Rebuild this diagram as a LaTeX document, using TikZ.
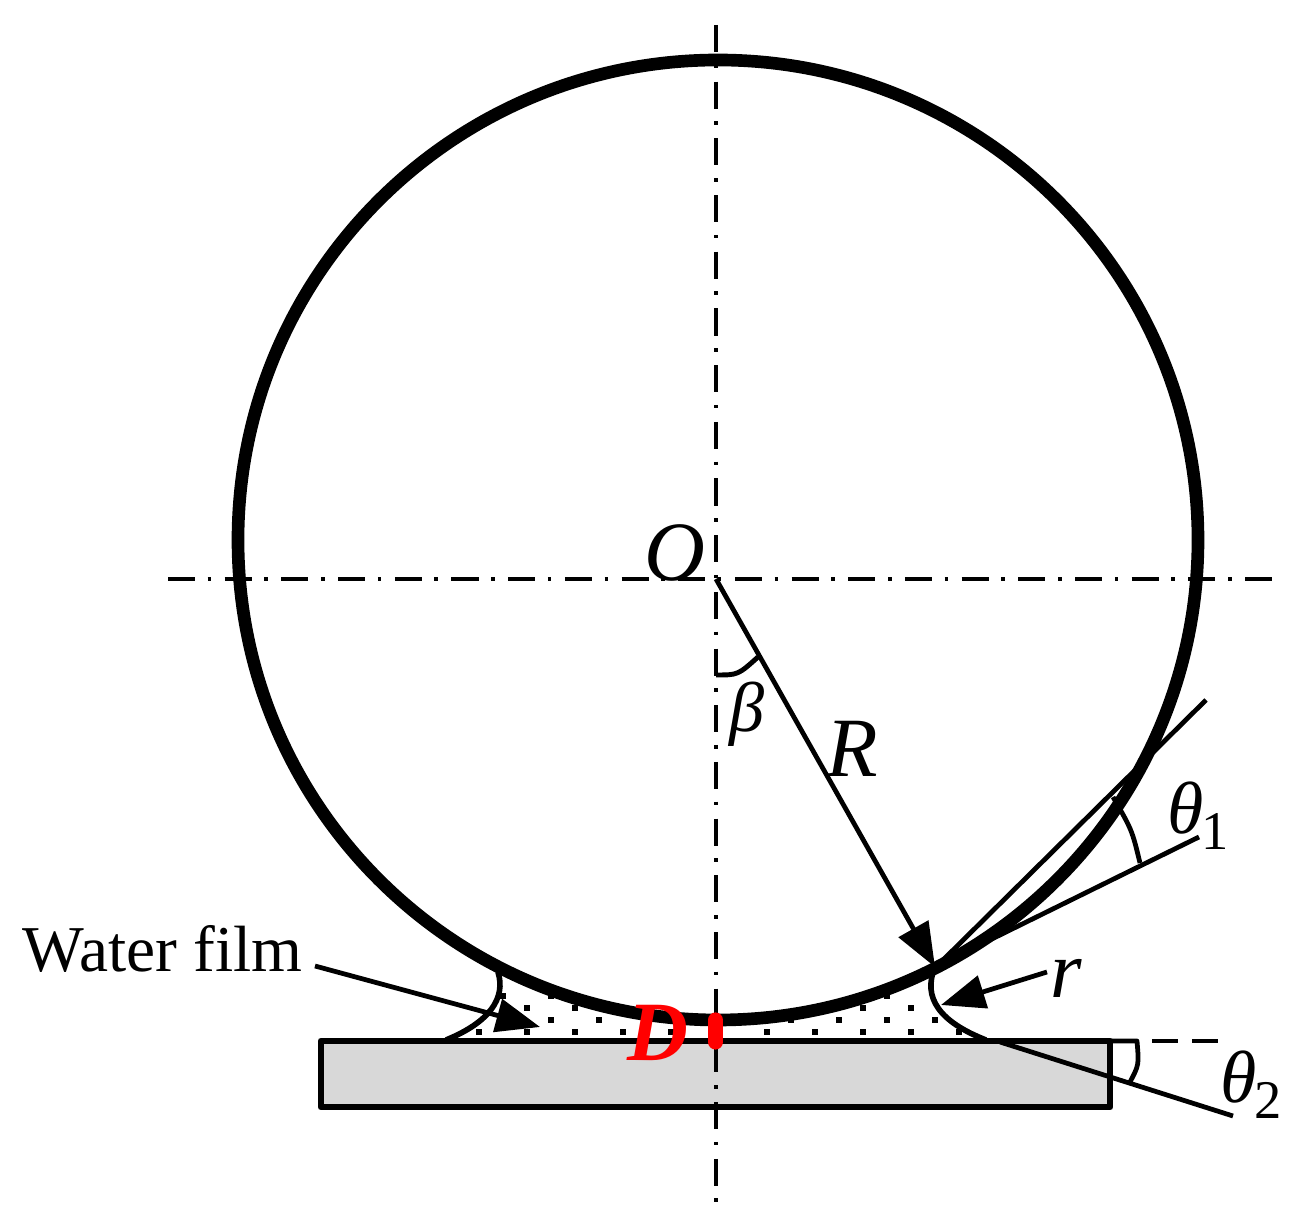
\documentclass[tikz,border=0pt]{standalone}
\usepackage{fontspec}
\setmainfont{Liberation Serif}
\usetikzlibrary{arrows.meta}
\definecolor{plategray}{HTML}{D8D8D8}
\tikzset{
	centerline/.style={line width=1.2pt, dash pattern=on 7.7pt off 3.6pt on 1pt off 3.82pt},
	thinline/.style={line width=1.35pt},
	meniscus/.style={line width=1.6pt},
	bigarrow/.style={line width=1.35pt, -{Triangle[length=12.5pt, width=9.5pt]}},
	lab/.style={inner sep=0pt, font=\fontsize{#1}{#1}\selectfont\itshape}
}
\newcommand{\subdigit}[1]{\kern-0.6pt\raisebox{-4.5pt}{\upshape\fontsize{15.5}{15.5}\selectfont #1}}
\begin{document}
\begin{tikzpicture}[x=0.01cm, y=0.01cm, line join=round]
	\useasboundingbox (0,0) rectangle (1299,1230);
	\coordinate (O) at (716,651);
	\coordinate (contact) at (935,263);
	\coordinate (rimL) at (498,258);
	\coordinate (filmL) at (446,190);
	\coordinate (filmR) at (986,190);
	\draw[line width=1.9pt, fill=plategray] (321,189) rectangle (1110,123);
	% water dots
	\foreach \x in {479,527,...,959} \fill (\x-3,195) rectangle +(6,6);
	\foreach \x in {551,599,647,791,839,887,935} \fill (\x-3,207) rectangle +(6,6);
	\foreach \x in {527,575,863,911} \fill (\x-3,219) rectangle +(6,6);
	\foreach \x in {503,551,887} \fill (\x-3,231) rectangle +(6,6);
	\draw[line width=3.6pt] (718,690) circle (480);
	\draw[meniscus] (rimL) .. controls (506,232) and (490,208) .. (filmL);
	\draw[meniscus] (contact) .. controls (922,232) and (940,208) .. (filmR);
	% centre lines
	\draw[centerline] (716,1205)--(716,25);
	\draw[centerline] (168,651)--(1275,651);
	\draw[bigarrow] (O)--(contact);
	\draw[line width=1.4pt] (716,555) .. controls (738,555) .. (758,573);
	% tangents
	\draw[thinline] (943,270)--(1206,530);
	\draw[thinline] (contact)--(1199,393);
	\draw[thinline] (1113,433) .. controls (1132,400) .. (1140,367);
	\draw[thinline] (1000,188)--(1233,114);
	\draw[thinline] (1110,189)--(1137,189) .. controls (1139,165) .. (1130,148);
	\draw[thinline, dash pattern=on 7.4pt off 4pt] (1152,189)--(1218,189);
	\draw[bigarrow] (1047,258)--(941,225);
	\draw[bigarrow] (315,264)--(540,203);
	\draw[red, line width=4.3pt, line cap=round] (715.5,188)--(715.5,210);
	% labels
	\node[lab=24] (lblO) at (675,677) {O};
	\node[lab=20] (lblb) at (747,516) {β};
	\node[lab=24] (lblR) at (852,481) {R};
	\node[lab=23] (lblr) at (1066,252) {r};
	\node[lab=21] (lblt) at (1198,414) {θ\subdigit{1}};
	\node[lab=21] (lbltt) at (1251,145) {θ\subdigit{2}};
	\node[inner sep=0pt, font=\fontsize{18.6}{18.6}\selectfont, anchor=base west] (lblW) at (22,258) {Water film};
	\node[inner sep=0pt, text=red, font=\fontsize{24}{24}\selectfont\bfseries\itshape] (lblD) at (658,197) {D};
\end{tikzpicture}
\end{document}
